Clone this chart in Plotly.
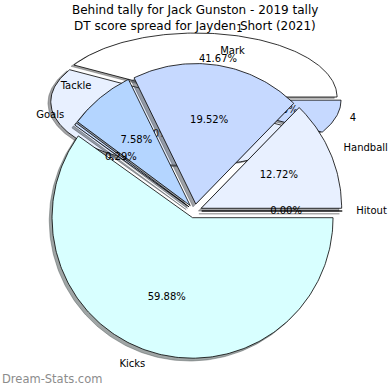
import math
import numpy as np
import plotly.graph_objects as go

# ---------------- data ----------------
title_back = "Behind tally for Jack Gunston - 2019 tally"
title_front = "DT score spread for Jayden Short (2021)"

behind_labels = ["1", "2", "4"]
behind_pcts = [41.67, 50.00, 8.33]
behind_colors = ["#ffffff", "#e8f0ff", "#c6d9ff"]

dt_labels = ["Hitout", "Handball", "Mark", "Tackle", "Goals", "Kicks"]
dt_pcts = [0.00, 12.72, 19.52, 7.58, 0.29, 59.88]
dt_colors = ["#ffffff", "#e8f0ff", "#c6d9ff", "#b4d5ff", "#cde0ff", "#d8ffff"]

watermark = "Dream-Stats.com"

# ---------------- style / geometry ----------------
W = H = 390
FONT = "DejaVu Sans"
LABEL_DIST, PCT_DIST = 1.1, 0.6
SHADOW_OFF = -0.02
# front pie (equal aspect)  centre px, radius px
F_CX, F_CY, F_R = 194.7, 211.0, 140.5
F_EXPLODE = 0.05
# back pie (stretched axes -> ellipse)
B_CX, B_CY, B_RX, B_RY = 194.6, 99.5, 141.0, 64.0
B_EXPLODE = 0.04


def hex_rgb(h):
    h = h.lstrip("#")
    return tuple(int(h[i:i + 2], 16) for i in (0, 2, 4))


def pie_traces(labels, values, colors, explode, xa, ya):
    total = float(sum(values))
    shadows, wedges = [], []
    tx, ty, tt, tp = [], [], [], []
    start = 0.0
    for lab, v, col in zip(labels, values, colors):
        span = v / total * 360.0
        t1, t2 = start, start + span
        mid = math.radians((t1 + t2) / 2)
        ox, oy = explode * math.cos(mid), explode * math.sin(mid)
        n = max(2, int(span) + 2)
        ts = np.radians(np.linspace(t1, t2, n))
        xs = np.concatenate([[ox], ox + np.cos(ts), [ox]])
        ys = np.concatenate([[oy], oy + np.sin(ts), [oy]])
        r, g, b = hex_rgb(col)
        sc = "rgba(%d,%d,%d,0.5)" % (0.3 * r, 0.3 * g, 0.3 * b)
        shadows.append(go.Scatter(x=xs + SHADOW_OFF, y=ys + SHADOW_OFF, mode="lines",
                                  fill="toself", fillcolor=sc,
                                  line=dict(color=sc, width=0.8),
                                  xaxis=xa, yaxis=ya, hoverinfo="skip", showlegend=False))
        wedges.append(go.Scatter(x=xs, y=ys, mode="lines", fill="toself", fillcolor=col,
                                 line=dict(color="black", width=0.8),
                                 xaxis=xa, yaxis=ya, hoverinfo="skip", showlegend=False))
        lx = ox + LABEL_DIST * math.cos(mid)
        ly = oy + LABEL_DIST * math.sin(mid)
        tx.append(lx); ty.append(ly); tt.append(lab)
        tp.append("middle right" if lx > 0 else "middle left")
        tx.append(ox + PCT_DIST * math.cos(mid)); ty.append(oy + PCT_DIST * math.sin(mid))
        tt.append("%.2f%%" % v)
        tp.append("middle center")
        start = t2
    texts = go.Scatter(x=tx, y=ty, text=tt, mode="text", textposition=tp,
                       marker=dict(size=0.1),
                       textfont=dict(family=FONT, size=10, color="#000000"),
                       xaxis=xa, yaxis=ya, hoverinfo="skip", showlegend=False,
                       cliponaxis=False)
    return shadows + wedges + [texts]


fig = go.Figure()
for t in pie_traces(behind_labels, behind_pcts, behind_colors, B_EXPLODE, "x", "y"):
    fig.add_trace(t)
for t in pie_traces(dt_labels, dt_pcts, dt_colors, F_EXPLODE, "x2", "y2"):
    fig.add_trace(t)

fig.update_layout(
    width=W, height=H, autosize=False,
    margin=dict(l=0, r=0, t=0, b=0),
    paper_bgcolor="white", plot_bgcolor="rgba(0,0,0,0)",
    xaxis=dict(domain=[0, 1], range=[-B_CX / B_RX, (W - B_CX) / B_RX], visible=False, fixedrange=True),
    yaxis=dict(domain=[0, 1], range=[-(H - B_CY) / B_RY, B_CY / B_RY], visible=False, fixedrange=True),
    xaxis2=dict(domain=[0, 1], overlaying="x", anchor="y2",
                range=[-F_CX / F_R, (W - F_CX) / F_R], visible=False, fixedrange=True),
    yaxis2=dict(domain=[0, 1], overlaying="y", anchor="x2",
                range=[-(H - F_CY) / F_R, F_CY / F_R], visible=False, fixedrange=True),
    showlegend=False,
    annotations=[
        dict(text=title_back, x=0.5, y=1 - 10 / H, xref="paper", yref="paper",
             xanchor="center", yanchor="middle", showarrow=False,
             font=dict(family=FONT, size=12, color="#000000")),
        dict(text=title_front, x=0.5, y=1 - 26 / H, xref="paper", yref="paper",
             xanchor="center", yanchor="middle", showarrow=False,
             font=dict(family=FONT, size=12, color="#000000")),
        dict(text=watermark, x=0, y=2 / H, xref="paper", yref="paper",
             xanchor="left", yanchor="bottom", showarrow=False,
             font=dict(family=FONT, size=11.5, color="#8c8c8c")),
    ],
)

fig.write_html("out.html", config={"displayModeBar": False, "staticPlot": True},
               post_script="document.body.style.margin='0';")
